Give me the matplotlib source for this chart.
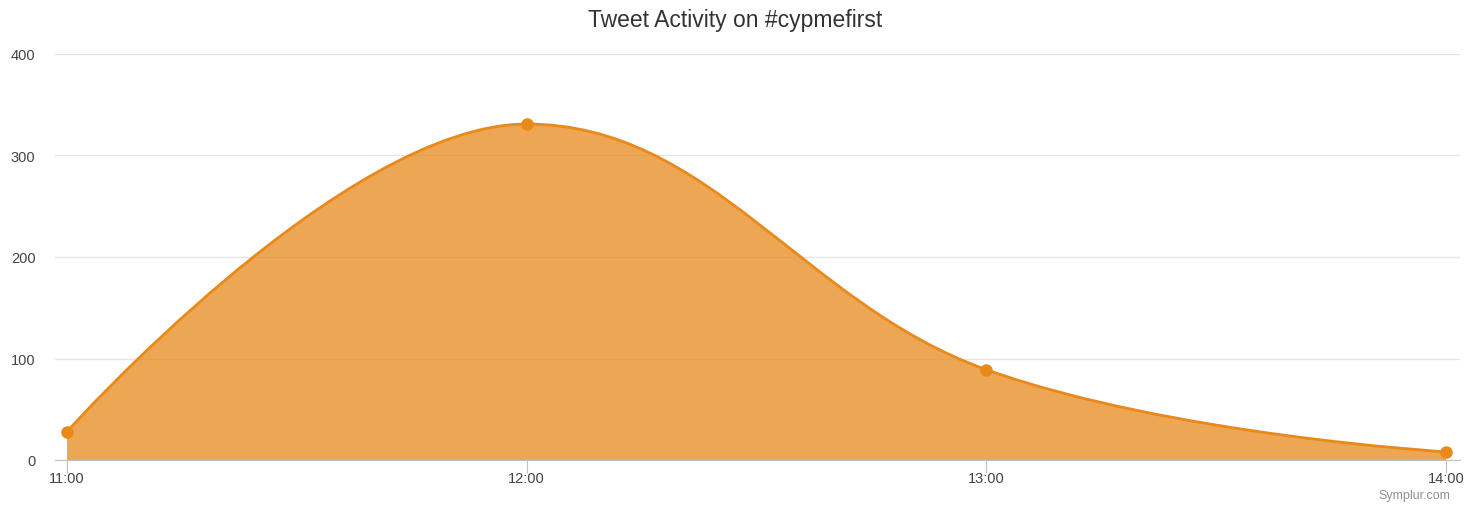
import matplotlib.pyplot as plt
from matplotlib.path import Path
from matplotlib.patches import PathPatch

plt.rcParams['font.family'] = ['Liberation Sans', 'DejaVu Sans']

hours = ["11:00", "12:00", "13:00", "14:00"]
tweets = [28, 331, 89, 8]

line_color = "#e8891a"


def spline_controls(xs, ys, smoothing=1.5):
    # Highcharts-style spline control points
    n = len(xs)
    left = [(xs[i], ys[i]) for i in range(n)]
    right = [(xs[i], ys[i]) for i in range(n)]
    denom = smoothing + 1
    for i in range(1, n - 1):
        px, py = xs[i], ys[i]
        lx, ly = xs[i - 1], ys[i - 1]
        nx, ny = xs[i + 1], ys[i + 1]
        lcx = (smoothing * px + lx) / denom
        lcy = (smoothing * py + ly) / denom
        rcx = (smoothing * px + nx) / denom
        rcy = (smoothing * py + ny) / denom
        corr = (rcy - lcy) * (rcx - px) / (rcx - lcx) + py - rcy
        lcy += corr
        rcy += corr
        if lcy > ly and lcy > py:
            lcy = max(ly, py)
            rcy = 2 * py - lcy
        elif lcy < ly and lcy < py:
            lcy = min(ly, py)
            rcy = 2 * py - lcy
        if rcy > ny and rcy > py:
            rcy = max(ny, py)
            lcy = 2 * py - rcy
        elif rcy < ny and rcy < py:
            rcy = min(ny, py)
            lcy = 2 * py - rcy
        left[i] = (lcx, lcy)
        right[i] = (rcx, rcy)
    verts = [(xs[0], ys[0])]
    codes = [Path.MOVETO]
    for i in range(1, n):
        verts += [right[i - 1], left[i], (xs[i], ys[i])]
        codes += [Path.CURVE4] * 3
    return verts, codes


x = list(range(len(hours)))
verts, codes = spline_controls(x, tweets)

fig = plt.figure(figsize=(14.77, 5.06), dpi=100)
ax = fig.add_axes([55 / 1477, 45 / 506, 1405 / 1477, 406 / 506])

# filled area
area_verts = verts + [(x[-1], 0), (x[0], 0), (x[0], tweets[0])]
area_codes = codes + [Path.LINETO, Path.LINETO, Path.CLOSEPOLY]
ax.add_patch(PathPatch(Path(area_verts, area_codes), facecolor=line_color,
                       edgecolor="none", alpha=0.75, zorder=2))
ax.add_patch(PathPatch(Path(verts, codes), facecolor="none",
                       edgecolor=line_color, lw=2, zorder=3))
ax.plot(x, tweets, "o", color=line_color, ms=8, zorder=4)

ax.set_xlim(-12 / 459.7, 3 + 14 / 459.7)
ax.set_ylim(0, 400)
ax.set_yticks([0, 100, 200, 300, 400])
ax.set_xticks(x)
ax.set_xticklabels(hours)
ax.grid(axis="y", color="#e6e6e6", lw=1, zorder=0)
ax.set_axisbelow(True)
for s in ["top", "right", "left"]:
    ax.spines[s].set_visible(False)
ax.spines["bottom"].set_color("#c0c0c0")
ax.spines["bottom"].set_zorder(5)
ax.tick_params(axis="y", length=0, pad=14, labelsize=10.5, labelcolor="#444444")
ax.tick_params(axis="x", length=9, color="#c0c0c0", pad=-1, labelsize=10.5,
               labelcolor="#444444")

fig.text(735 / 1477, 1 - 21 / 506, "Tweet Activity on #cypmefirst", ha="center",
         va="center", fontsize=16.5, color="#333333")
fig.text(1450 / 1477, 1 - 496 / 506, "Symplur.com", ha="right", va="center",
         fontsize=9, color="#909090")

fig.savefig("out.png", dpi=100)
